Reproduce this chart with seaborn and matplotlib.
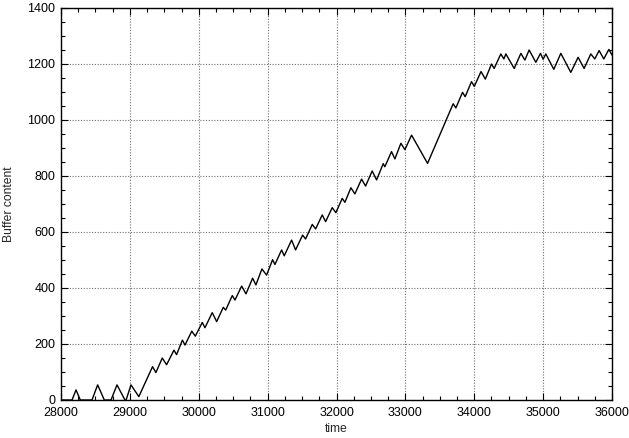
import matplotlib
matplotlib.use("Agg")
import matplotlib.pyplot as plt
import seaborn as sns
import pandas as pd
from matplotlib.ticker import MultipleLocator

time = [28000, 28160, 28218, 28280, 28450, 28532, 28629, 28726, 28813, 28929,
        28945, 29016, 29130, 29329, 29378, 29470, 29533, 29640, 29678, 29763,
        29800, 29899, 29950, 30051, 30090, 30196, 30260, 30356, 30391, 30487,
        30526, 30623, 30686, 30782, 30830, 30917, 30985, 31072, 31106, 31203,
        31241, 31348, 31406, 31508, 31551, 31648, 31697, 31793, 31842, 31938,
        31991, 32083, 32122, 32209, 32267, 32364, 32422, 32518, 32582, 32678,
        32702, 32799, 32848, 32935, 32993, 33090, 33322, 33694, 33733, 33830,
        33868, 33960, 34001, 34098, 34161, 34251, 34289, 34386, 34430, 34459,
        34580, 34677, 34735, 34797, 34894, 34962, 35000, 35039, 35155, 35257,
        35402, 35508, 35595, 35692, 35750, 35813, 35881, 35954, 36000]
buffer_content = [0, 0, 36, 0, 0, 54, 0, 0, 54, 0,
                  0, 54, 12, 119, 98, 150, 126, 178, 162, 214,
                  196, 246, 228, 277, 258, 312, 280, 331, 321, 373,
                  357, 407, 379, 435, 411, 468, 446, 501, 484, 536,
                  515, 571, 536, 589, 575, 627, 611, 661, 637, 687,
                  669, 720, 706, 758, 736, 789, 764, 818, 786, 844,
                  833, 887, 861, 917, 894, 946, 845, 1058, 1043, 1099,
                  1083, 1137, 1120, 1173, 1146, 1200, 1184, 1236, 1218, 1236,
                  1184, 1238, 1214, 1250, 1206, 1238, 1217, 1236, 1181, 1238,
                  1170, 1224, 1184, 1236, 1218, 1248, 1218, 1252, 1232]

x_ticks = [28000, 29000, 30000, 31000, 32000, 33000, 34000, 35000, 36000]
y_ticks = [0, 200, 400, 600, 800, 1000, 1200, 1400]

df = pd.DataFrame({"time": time, "Buffer content": buffer_content})

sns.set_style("ticks")
plt.rcParams["font.family"] = ["Liberation Sans", "DejaVu Sans"]

fig = plt.figure(figsize=(6.29, 4.38), dpi=100)
ax = fig.add_axes([61 / 629, 1 - 400 / 438, (612 - 61) / 629, (400 - 8) / 438])

sns.lineplot(data=df, x="time", y="Buffer content", ax=ax, color="black",
             linewidth=1.0, estimator=None, sort=False)

ax.set_xlim(28000, 36000)
ax.set_ylim(0, 1400)
ax.set_xticks(x_ticks)
ax.set_yticks(y_ticks)
ax.xaxis.set_minor_locator(MultipleLocator(250))
ax.yaxis.set_minor_locator(MultipleLocator(50))
ax.tick_params(which="both", direction="in", top=True, right=True,
               labelsize=9, colors="black", width=0.8)
ax.tick_params(which="major", length=5)
ax.tick_params(which="minor", length=3)
ax.tick_params(axis="x", pad=5)
ax.tick_params(axis="y", pad=4)

ax.grid(True, which="major", color="#707070", linestyle=(0, (1, 1.5)), linewidth=0.8)
for s in ax.spines.values():
    s.set_visible(True)
    s.set_color("black")
    s.set_linewidth(1.0)

ax.set_xlabel("time", fontsize=8.7)
ax.set_ylabel("Buffer content", fontsize=8.7)
ax.xaxis.set_label_coords(0.5, -0.059)
ax.yaxis.set_label_coords(-0.083, 0.5)

fig.savefig("out.png", dpi=100)
